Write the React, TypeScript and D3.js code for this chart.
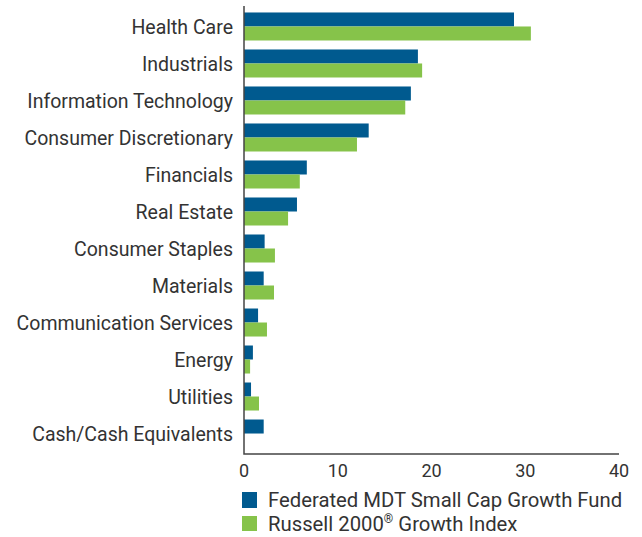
import React from "react";
import * as d3 from "d3";

const categories = [
  "Health Care",
  "Industrials",
  "Information Technology",
  "Consumer Discretionary",
  "Financials",
  "Real Estate",
  "Consumer Staples",
  "Materials",
  "Communication Services",
  "Energy",
  "Utilities",
  "Cash/Cash Equivalents",
];
const fundValues = [28.8, 18.55, 17.8, 13.3, 6.7, 5.65, 2.2, 2.1, 1.5, 0.95, 0.75, 2.1];
const indexValues = [30.6, 19.0, 17.2, 12.05, 5.95, 4.7, 3.3, 3.2, 2.45, 0.65, 1.6, 0];
const xTicks = [0, 10, 20, 30, 40];
const seriesNames = ["Federated MDT Small Cap Growth Fund", "Russell 2000", "Growth Index"];

const BLUE = "#005a8f";
const GREEN = "#86c34a";
const TEXT = "#333333";
const FONT = "Roboto, 'Liberation Sans', Arial, sans-serif";

export default function App() {
  const W = 642, H = 537;
  const x0 = 244, x1 = 619, yTop = 6, yBot = 454;
  const x = d3.scaleLinear().domain([0, 40]).range([x0, x1]);
  const y = d3.scaleBand<string>().domain(categories).range([yTop, yBot]).paddingInner(0.243).paddingOuter(0.175);
  const bh = y.bandwidth() / 2;
  return (
    <svg width={W} height={H} style={{ position: "absolute", left: 0, top: 0 }} fontFamily={FONT}>
      <rect width={W} height={H} fill="#fff" />
      {categories.map((c, i) => (
        <g key={c}>
          <rect x={x(0)} y={y(c)!} width={x(fundValues[i]) - x(0)} height={bh} fill={BLUE} />
          <rect x={x(0)} y={y(c)! + bh} width={x(indexValues[i]) - x(0)} height={bh} fill={GREEN} />
          <text x={233} y={y(c)! + bh + 1} dy="0.35em" textAnchor="end" fontSize={19.5} fill={TEXT}>{c}</text>
        </g>
      ))}
      <path d={`M${x0},${yTop}V${yBot}H${x1}`} fill="none" stroke="#444" strokeWidth={1.5} />
      {xTicks.map((t) => (
        <text key={t} x={x(t)} y={471} dy="0.35em" textAnchor="middle" fontSize={18} fill={TEXT}>{t}</text>
      ))}
      <rect x={242} y={492} width={15} height={16} fill={BLUE} />
      <text x={268} y={500} dy="0.35em" fontSize={20.3} fill={TEXT}>{seriesNames[0]}</text>
      <rect x={242} y={516} width={15} height={15} fill={GREEN} />
      <text x={268} y={531} fontSize={20.3} fill={TEXT}>
        {seriesNames[1]}
        <tspan fontSize={12} dy={-8}>®</tspan>
        <tspan dy={8}> {seriesNames[2]}</tspan>
      </text>
    </svg>
  );
}
